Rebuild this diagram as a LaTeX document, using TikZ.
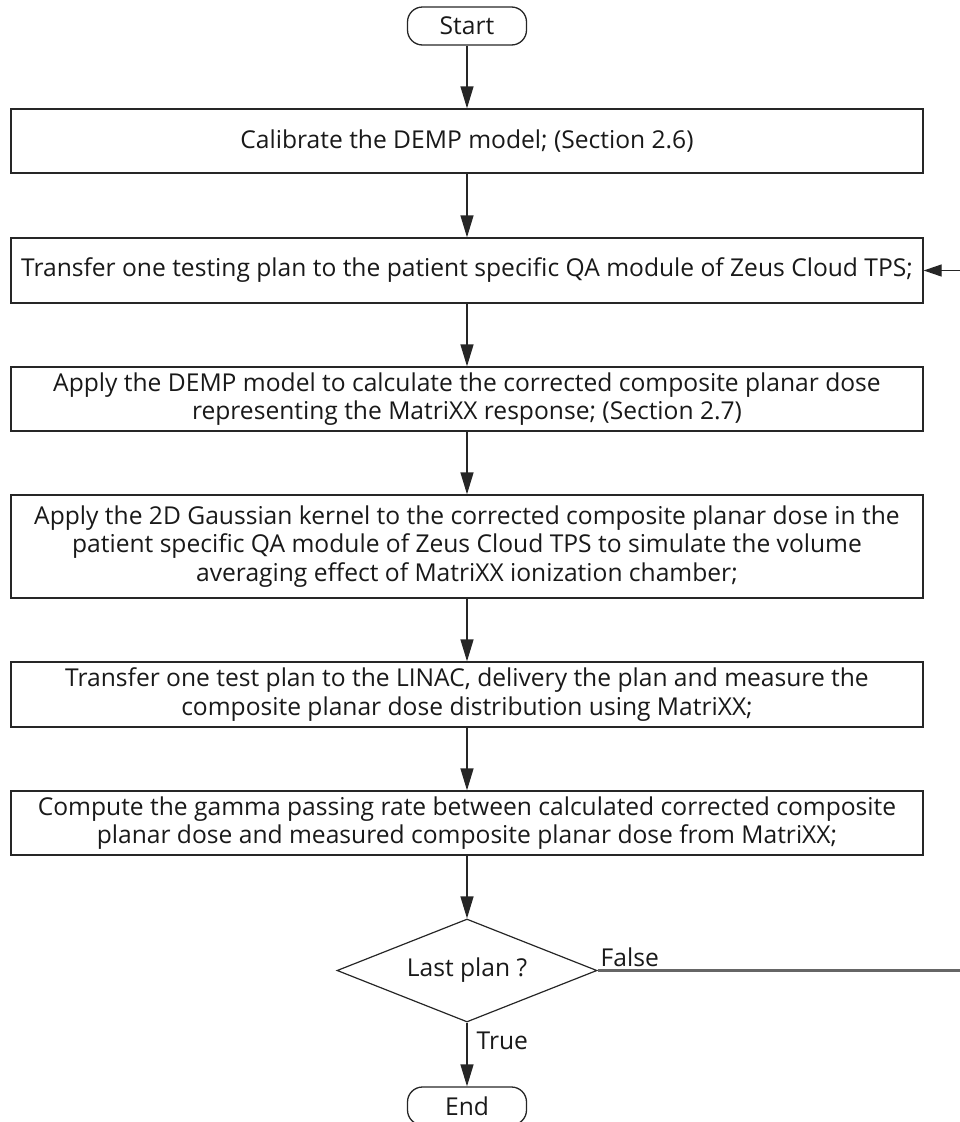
\documentclass[tikz,border=0pt]{standalone}
\usepackage{fontspec}
\setmainfont{Open Sans}
\usetikzlibrary{arrows.meta,shapes.geometric}
\begin{document}
\begin{tikzpicture}[x=1pt,y=-1pt,
  every node/.style={font=\fontsize{24.6}{28.5}\selectfont, text=black!90},
  procbox/.style={draw=black!85, line width=1.3pt, minimum width=912pt, inner sep=0pt, align=center, fill=white},
  termbox/.style={draw=black!85, line width=1.3pt, rounded corners=15pt, minimum width=119pt, minimum height=38pt, inner sep=0pt},
  decbox/.style={draw=black!85, line width=1.2pt, shape=diamond, aspect=2.5, minimum width=260pt, minimum height=103pt, inner sep=0pt},
  flow/.style={draw=black!85, line width=1.3pt, -{Triangle[length=22pt,width=13pt]}},
  loopline/.style={draw=black!60, line width=2.2pt},
  lbl/.style={font=\fontsize{24.6}{28.5}\selectfont, inner sep=0pt}
]
\useasboundingbox (0,0) rectangle (959,1122);
\node[termbox] (start) at (467,26) {Start};
\node[procbox, minimum height=64pt] (b1) at (467,141) {Calibrate the DEMP model; (Section 2.6)};
\node[procbox, minimum height=65pt] (b2) at (467,270.5) {Transfer one testing plan to the patient specific QA module of Zeus Cloud TPS;};
\node[procbox, minimum height=64pt] (b3) at (467,399) {Apply the DEMP model to calculate the corrected composite planar dose\\representing the MatriXX response; (Section 2.7)};
\node[procbox, minimum height=103pt] (b4) at (467,546.5) {Apply the 2D Gaussian kernel to the corrected composite planar dose in the\\patient specific QA module of Zeus Cloud TPS to simulate the volume\\averaging effect of MatriXX ionization chamber;};
\node[procbox, minimum height=65pt] (b5) at (467,694.5) {Transfer one test plan to the LINAC, delivery the plan and measure the\\composite planar dose distribution using MatriXX;};
\node[procbox, minimum height=64pt] (b6) at (467,823) {Compute the gamma passing rate between calculated corrected composite\\planar dose and measured composite planar dose from MatriXX;};
\node[decbox] (dec) at (467,970.5) {Last plan ?};
\node[termbox] (end) at (467,1106) {End};
\coordinate (r1) at (962,970.5);
\coordinate (r2) at (962,270.5);
\draw[flow] (start) -- (b1);
\draw[flow] (b1) -- (b2);
\draw[flow] (b2) -- (b3);
\draw[flow] (b3) -- (b4);
\draw[flow] (b4) -- (b5);
\draw[flow] (b5) -- (b6);
\draw[flow] (b6) -- (dec);
\draw[flow] (dec) -- node[lbl, right, xshift=9pt, yshift=14pt] (tlab) {True} (end);
\draw[loopline] (dec.east) -- node[lbl, pos=0, above right, xshift=2pt, yshift=3pt] (flab) {False} (r1) -- (r2);
\draw[draw=black!85, line width=1.3pt, -{Triangle[length=18pt,width=12pt]}] (r2) -- (b2.east);
\end{tikzpicture}
\end{document}
